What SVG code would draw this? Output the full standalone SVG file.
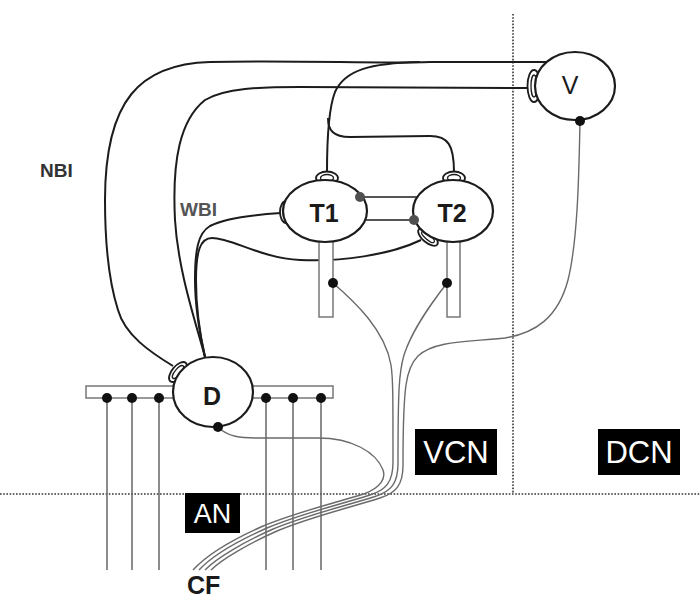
<svg xmlns="http://www.w3.org/2000/svg" width="700" height="606" viewBox="0 0 700 606">
<style>
.ax{fill:none;stroke:#1c1c1c;stroke-width:2}
.fb{fill:none;stroke:#6a6a6a;stroke-width:1.4}
.dot{fill:#111}
.gdot{fill:#505050}
.cell{fill:#fff;stroke:#1c1c1c;stroke-width:2.2}
.bt{fill:#fff;stroke:#1c1c1c;stroke-width:1.8}
.bti{fill:none;stroke:#1c1c1c;stroke-width:1.3}
.col{fill:#fff;stroke:#777;stroke-width:1.5}
.div{fill:none;stroke:#333;stroke-width:1.6;stroke-dasharray:1.6 1.6}
.lbl{font-family:"Liberation Sans",Arial,sans-serif}
.nm{font-family:"Liberation Sans",Arial,sans-serif;font-size:25px;fill:#1a1a1a;text-anchor:middle}
.box{fill:#000}
.bx{font-family:"Liberation Sans",Arial,sans-serif;fill:#fff;text-anchor:middle}
</style>

<g id="dividers">
<line class="div" x1="0" y1="494" x2="700" y2="494"/>
<line class="div" x1="513" y1="14" x2="513" y2="494"/>
</g>

<g id="an-fibers">
<rect class="col" x="86" y="386" width="247" height="12"/>
<g stroke="#666" stroke-width="1.5">
<line x1="107" y1="398" x2="107" y2="570"/>
<line x1="132" y1="398" x2="132" y2="570"/>
<line x1="159" y1="398" x2="159" y2="570"/>
<line x1="266" y1="398" x2="266" y2="570"/>
<line x1="293" y1="398" x2="293" y2="570"/>
<line x1="321" y1="398" x2="321" y2="570"/>
</g>
</g>

<g id="connectors">
<!-- NBI -->
<path class="ax" d="M173,366 C150,352 125,335 118,310 C110,285 105,250 105,200 C105,100 140,64 210,62 C300,60 380,64 430,62 L547,62"/>
<!-- WBI -->
<path class="ax" d="M205,357 C195,320 178,270 175,220 C172,160 180,120 205,100 C225,88 260,87 300,87 L529,88"/>
<!-- T1 left input -->
<path class="ax" d="M281,213 C250,215 225,218 210,226 C198,233 195,250 195,280 C195,310 200,335 205,357"/>
<!-- T2 lower input -->
<path class="ax" d="M421,240 C390,255 340,262 300,260 C260,258 232,238 212,238 C200,238 196,252 196,280 C196,310 200,335 205,357"/>
<!-- T1 top to V line -->
<path class="ax" d="M327,172 C327,140 328,110 335,92 C345,70 370,63 420,62"/>
<!-- branch to T2 top -->
<path class="ax" d="M328,118 C328,130 333,137 350,137 L430,136 C448,136 454,145 454,172"/>
<!-- T1-T2 links -->
<line x1="360" y1="197" x2="417" y2="197" stroke="#555" stroke-width="2"/>
<line x1="365" y1="220" x2="414" y2="220" stroke="#555" stroke-width="2"/>
<!-- CF bundle fibers -->
<path class="fb" d="M218,427 C228,437 240,438 260,438 L318,438 C352,438 376,452 383,470 C386,478 381,487 365,493.5 C330,504.5 295,512.5 262,526.5 C235,538.5 207,554.5 193,570"/>
<path class="fb" d="M333,283 C355,302 385,330 391,365 C393,378 393,395 393,462 C393,482 386,490 370,495 C335,506 300,514 267,528 C240,540 212,556 199,570"/>
<path class="fb" d="M447,283 C430,305 412,330 404,355 C399,372 398,390 398,463.5 C398,483.5 391,491.5 375,496.5 C340,507.5 305,515.5 272,529.5 C245,541.5 217,557.5 205,570"/>
<path class="fb" d="M580,121 C579,170 578,240 568,280 C558,318 535,333 505,338 C470,342 435,340 418,356 C406,368 403,385 403,465 C403,485 396,493 380,498 C345,509 310,517 277,531 C250,543 222,559 211,570"/>
</g>

<g id="node-T1">
<rect class="col" x="319" y="232" width="14" height="85"/>
<ellipse class="bt" cx="327" cy="178" rx="11" ry="6.5"/>
<ellipse class="bti" cx="327" cy="178" rx="6.5" ry="3.5"/>
<ellipse class="bt" cx="286" cy="212" rx="6" ry="11"/>
<ellipse class="bti" cx="286" cy="212" rx="3" ry="7"/>
<ellipse class="cell" cx="325" cy="211" rx="42" ry="31"/>
<circle class="gdot" cx="360" cy="197" r="5"/>
<circle class="dot" cx="333" cy="283" r="5"/>
<text class="nm" x="324" y="222" font-weight="bold">T1</text>
</g>

<g id="node-T2">
<rect class="col" x="447" y="232" width="13" height="85"/>
<ellipse class="bt" cx="454" cy="178" rx="11" ry="6.5"/>
<ellipse class="bti" cx="454" cy="178" rx="6.5" ry="3.5"/>
<ellipse class="bt" cx="428" cy="237" rx="12" ry="5.5" transform="rotate(40 428 237)"/>
<ellipse class="bti" cx="428" cy="237" rx="8" ry="2.5" transform="rotate(40 428 237)"/>
<ellipse class="cell" cx="453" cy="211" rx="40" ry="31"/>
<circle class="gdot" cx="414" cy="220" r="5"/>
<circle class="dot" cx="447" cy="283" r="5"/>
<text class="nm" x="452" y="222" font-weight="bold">T2</text>
</g>

<g id="node-V">
<ellipse class="bt" cx="534" cy="86" rx="6.5" ry="16"/>
<ellipse class="bti" cx="534" cy="86" rx="3" ry="11"/>
<ellipse class="cell" cx="575" cy="86" rx="40" ry="34"/>
<circle class="dot" cx="580" cy="121" r="5"/>
<text class="nm" x="570" y="94">V</text>
</g>

<g id="node-D">
<ellipse class="bt" cx="178" cy="372" rx="12" ry="6" transform="rotate(-50 178 372)"/>
<ellipse class="bti" cx="178" cy="372" rx="8" ry="3" transform="rotate(-50 178 372)"/>
<ellipse class="cell" cx="213" cy="392" rx="40" ry="35"/>
<circle class="dot" cx="218" cy="427" r="5"/>
<text class="nm" x="212" y="405" font-weight="bold">D</text>
</g>

<g id="bar-dots">
<circle class="dot" cx="107" cy="398" r="5"/>
<circle class="dot" cx="132" cy="398" r="5"/>
<circle class="dot" cx="159" cy="398" r="5"/>
<circle class="dot" cx="266" cy="398" r="5"/>
<circle class="dot" cx="293" cy="398" r="5"/>
<circle class="dot" cx="321" cy="398" r="5"/>
</g>

<g id="labels">
<text class="lbl" x="40" y="177" font-size="19" font-weight="bold" fill="#333">NBI</text>
<text class="lbl" x="180" y="216" font-size="19" font-weight="bold" fill="#555">WBI</text>
<text class="lbl" x="187" y="594" font-size="25" font-weight="bold" fill="#1a1a1a">CF</text>
</g>

<g id="region-AN">
<rect class="box" x="185" y="493" width="55" height="40"/>
<text class="bx" x="212.5" y="523" font-size="27">AN</text>
</g>
<g id="region-VCN">
<rect class="box" x="415" y="429" width="82" height="46"/>
<text class="bx" x="456" y="463" font-size="31">VCN</text>
</g>
<g id="region-DCN">
<rect class="box" x="598" y="429" width="82" height="46"/>
<text class="bx" x="639" y="463" font-size="31">DCN</text>
</g>
</svg>
